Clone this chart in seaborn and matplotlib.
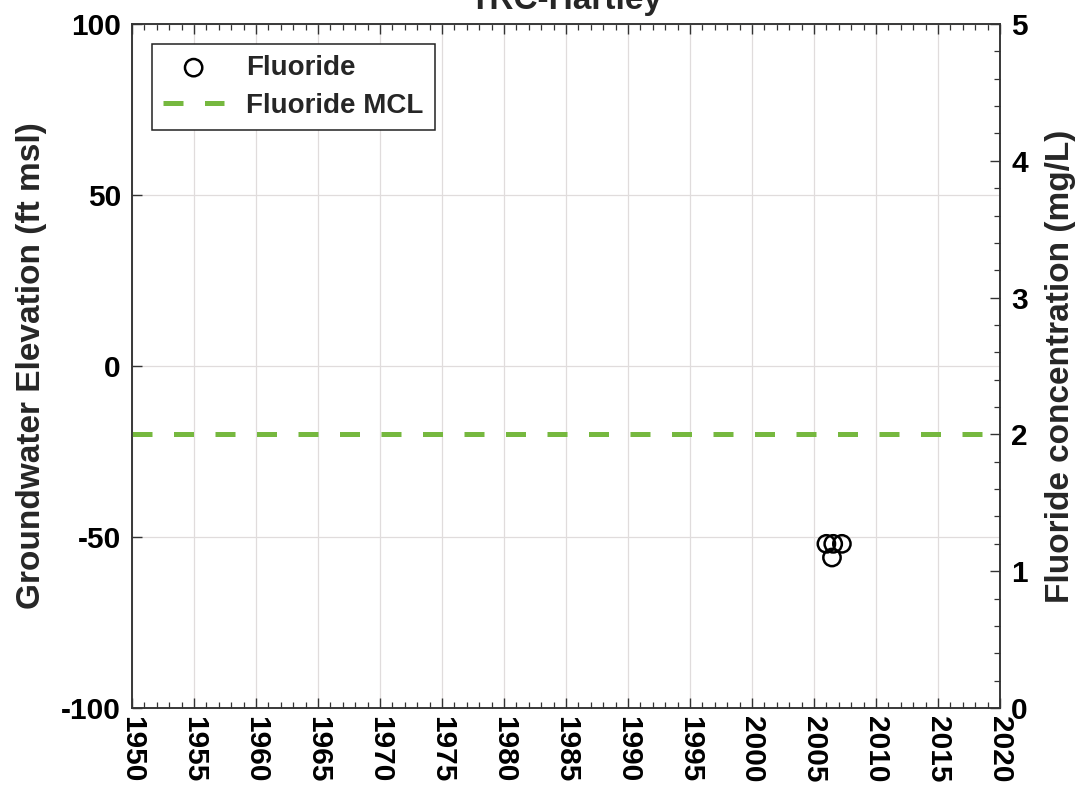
import matplotlib
matplotlib.use("Agg")
import matplotlib.pyplot as plt
from matplotlib.ticker import MultipleLocator
import seaborn as sns
import pandas as pd

# Fluoride samples (decimal year, mg/L)
sample_years = [2006.0, 2006.55, 2007.25, 2006.45]
fluoride_mgL = [1.2, 1.2, 1.2, 1.1]

# Maximum contaminant level for fluoride (mg/L)
mcl_years = [1950, 2020]
mcl_value = [2.0, 2.0]

x_ticks = list(range(1950, 2021, 5))
elev_ticks = [-100, -50, 0, 50, 100]
conc_ticks = [0, 1, 2, 3, 4, 5]

sns.set_theme(style="white")
plt.rcParams["font.family"] = ["Liberation Sans", "DejaVu Sans"]
plt.rcParams["font.weight"] = "bold"

fig = plt.figure(figsize=(10.84, 7.95), dpi=100)
ax = fig.add_axes([132 / 1084, 1 - 708 / 795, 868 / 1084, 684 / 795])
ax2 = ax.twinx()

samples = pd.DataFrame({"year": sample_years, "fluoride": fluoride_mgL})
mcl = pd.DataFrame({"year": mcl_years, "mcl": mcl_value})

sns.lineplot(data=mcl, x="year", y="mcl", ax=ax2, color="#76b83f",
             linewidth=3.6, dashes=False, label="Fluoride MCL", zorder=2)
ax2.lines[-1].set_dashes((4, 4.3))
sns.scatterplot(data=samples, x="year", y="fluoride", ax=ax2, marker="o",
                s=155, facecolor="none", edgecolor="black", linewidth=1.8,
                label="Fluoride", zorder=3)

ax.set_xlim(1950, 2020)
ax.set_ylim(-100, 100)
ax2.set_ylim(0, 5)

ax.set_xticks(x_ticks)
ax.set_xticklabels([str(t) for t in x_ticks], rotation=-90, fontsize=21.5,
                   fontweight="bold")
ax.xaxis.set_minor_locator(MultipleLocator(1))
ax.set_yticks(elev_ticks)
ax.set_yticklabels([str(t) for t in elev_ticks], fontsize=21.5,
                   fontweight="bold")
ax2.set_yticks(conc_ticks)
ax2.set_yticklabels([str(t) for t in conc_ticks], fontsize=21.5,
                    fontweight="bold")
ax2.yaxis.set_minor_locator(MultipleLocator(0.2))

ax.grid(True, which="major", color="#e0dcdc", linewidth=0.9)
ax2.grid(False)

for a in (ax, ax2):
    for sp in a.spines.values():
        sp.set_color("#333333")
        sp.set_linewidth(1.1)
ax.tick_params(axis="x", which="both", direction="in", top=True, bottom=True,
               colors="#333333", labelcolor="black", pad=6)
ax.tick_params(axis="x", which="major", length=7, width=1)
ax.tick_params(axis="x", which="minor", length=4, width=0.9)
ax.tick_params(axis="y", which="major", direction="in", length=7, width=1,
               colors="#333333", labelcolor="black", pad=8)
ax2.tick_params(axis="y", which="major", direction="in", length=7, width=1,
                colors="#333333", labelcolor="black", pad=8)
ax2.tick_params(axis="y", which="minor", direction="in", length=4, width=0.9,
                colors="#333333")

ax.set_xlabel("")
ax2.set_xlabel("")
ax.set_ylabel("Groundwater Elevation (ft msl)", fontsize=24,
              fontweight="bold", labelpad=10)
ax2.set_ylabel("Fluoride concentration (mg/L)", fontsize=24,
               fontweight="bold", labelpad=12)
ax.set_title("TRC-Hartley", fontsize=24, fontweight="bold", pad=11)

handles, labels = ax2.get_legend_handles_labels()
order = [labels.index("Fluoride"), labels.index("Fluoride MCL")]
leg = ax2.legend([handles[i] for i in order], [labels[i] for i in order],
                 loc="upper left", bbox_to_anchor=(0.023, 0.971),
                 fontsize=20, frameon=True, fancybox=False, framealpha=1,
                 edgecolor="#222222", borderpad=0.4, handlelength=2.2,
                 handletextpad=0.8, labelspacing=0.42, borderaxespad=0)
leg.get_frame().set_linewidth(1.1)
for t in leg.get_texts():
    t.set_fontweight("bold")

fig.savefig("out.png", dpi=100)
